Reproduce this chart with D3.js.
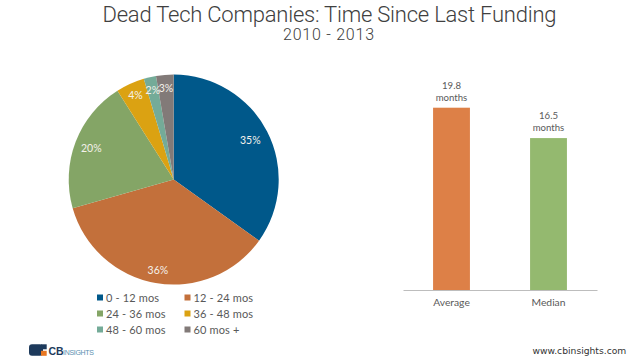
<!DOCTYPE html>
<html><head><meta charset="utf-8">
<script src="https://cdn.jsdelivr.net/npm/d3@7"></script>
<style>html,body{margin:0;padding:0;background:#fff}svg{display:block}</style></head>
<body><svg id="c" width="639" height="363"></svg>
<script>
const pieLabels=["0 - 12 mos","12 - 24 mos","24 - 36 mos","36 - 48 mos","48 - 60 mos","60 mos +"];
const pieValues=[34.9,35.7,20.4,4.4,1.9,2.7];
const pieText=["35%","36%","20%","4%","2%","3%"];
const pieColors=["#00588a","#c3703b","#84a566","#dba212","#74ab98","#827a78"];
const barLabels=["Average","Median"];
const barValues=[19.8,16.5];
const barColors=["#dd8047","#94b96f"];
const svg=d3.select("#c");
const lab="Lato, 'Open Sans', sans-serif", head="Roboto, 'Liberation Sans', Arial, sans-serif";

svg.append("text").attr("x",329.5).attr("y",21.5).attr("text-anchor","middle").attr("font-family",head).attr("font-weight",300).attr("font-size",22).attr("textLength",454).attr("lengthAdjust","spacing").attr("fill","#404040").text("Dead Tech Companies: Time Since Last Funding");
svg.append("text").attr("x",328.5).attr("y",40).attr("text-anchor","middle").attr("font-family",head).attr("font-weight",300).attr("font-size",16).attr("textLength",91).attr("fill","#404040").text("2010 - 2013");

const cx=173.7,cy=179.5,R=105;
const pie=d3.pie().sort(null).value(d=>d)(pieValues);
const arc=d3.arc().innerRadius(0).outerRadius(R);
const g=svg.append("g").attr("transform",`translate(${cx},${cy})`);
g.selectAll("path").data(pie).join("path").attr("d",arc).attr("fill",(d,i)=>pieColors[i]);
const labelR=[0.82,0.875,0.84,0.88,0.875,0.875];
g.selectAll("text").data(pie).join("text")
 .attr("transform",(d,i)=>{const a=(d.startAngle+d.endAngle)/2,r=R*labelR[i];return `translate(${r*Math.sin(a)},${-r*Math.cos(a)+4})`;})
 .attr("text-anchor","middle").attr("font-family",lab).attr("font-size",10.5).attr("fill","#f4f1ea").text((d,i)=>pieText[i]);

const legX=d3.scaleOrdinal().domain([0,1]).range([97,184.5]);
const legY=d3.scaleOrdinal().domain([0,1,2]).range([297,313,329]);
const leg=svg.append("g").selectAll("g").data(pieLabels).join("g")
 .attr("transform",(d,i)=>`translate(${legX(i%2)},${legY(Math.floor(i/2))})`);
leg.append("rect").attr("y",-2.5).attr("width",6).attr("height",6).attr("fill",(d,i)=>pieColors[i]);
leg.append("text").attr("x",9).attr("y",4.5).attr("font-family",lab).attr("font-size",11).attr("letter-spacing",0.15).attr("fill","#595959").text(d=>d);

const x=d3.scaleBand().domain(barLabels).range([403,597]).paddingInner(0.62).paddingOuter(0.31);
const y=d3.scaleLinear().domain([0,19.8]).range([290,107.7]);
const bars=svg.append("g");
bars.selectAll("rect").data(barValues).join("rect").attr("x",(d,i)=>x(barLabels[i])).attr("y",d=>y(d)).attr("width",x.bandwidth()).attr("height",d=>y(0)-y(d)).attr("fill",(d,i)=>barColors[i]);
const ax=svg.append("g").attr("transform","translate(0,290)").call(d3.axisBottom(x).tickSize(0).tickPadding(9));
ax.select(".domain").attr("stroke","#bdbdbd").attr("stroke-width",1.2);
ax.selectAll("text").attr("font-family",lab).attr("font-size",10.3).attr("fill","#595959");
const vl=svg.append("g").selectAll("text").data(barValues).join("text").attr("text-anchor","middle").attr("font-family",lab).attr("font-size",9.6).attr("fill","#595959");
vl.append("tspan").attr("x",(d,i)=>x(barLabels[i])+x.bandwidth()/2).attr("y",d=>y(d)-19).text(d=>d);
vl.append("tspan").attr("x",(d,i)=>x(barLabels[i])+x.bandwidth()/2).attr("y",d=>y(d)-7).text("months");

svg.append("text").attr("x",532.5).attr("y",353.5).attr("font-family","'DejaVu Sans',sans-serif").attr("font-size",9.2).attr("fill","#333").text("www.cbinsights.com");
const logo=svg.append("g");
logo.append("rect").attr("x",29).attr("y",344.3).attr("width",14).attr("height",11.5).attr("rx",3).attr("fill","#1d3a5c");
logo.append("rect").attr("x",41).attr("y",344.3).attr("width",5.7).attr("height",5).attr("fill","#1d3a5c");
logo.append("rect").attr("x",41).attr("y",350.8).attr("width",5.7).attr("height",5).attr("fill","#e87722");
logo.append("text").attr("x",48.5).attr("y",354.5).attr("font-family","'Liberation Sans',sans-serif").attr("font-weight",700).attr("font-size",10.5).attr("fill","#1d3a5c").text("CB");
logo.append("text").attr("x",63).attr("y",354.5).attr("font-family","'Liberation Sans',sans-serif").attr("font-size",7).attr("textLength",31).attr("fill","#5b8fb0").text("INSIGHTS");
</script></body></html>
